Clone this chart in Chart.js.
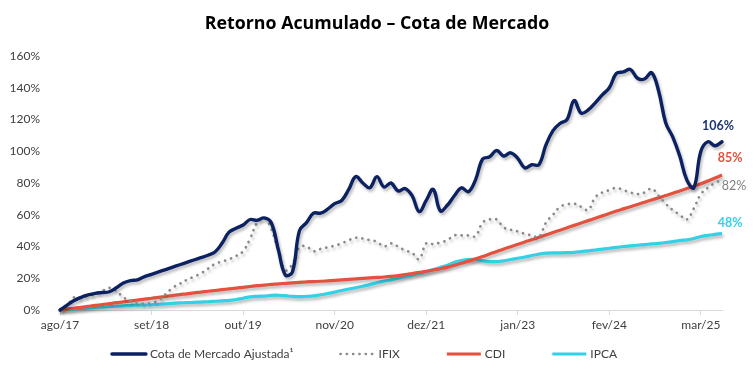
<!DOCTYPE html>
<html><head><meta charset="utf-8">
<script src="https://cdn.jsdelivr.net/npm/chart.js@4.4.1/dist/chart.umd.min.js"></script>
<style>html,body{margin:0;padding:0;background:#fff}#wrap{width:756px;height:378px}</style>
</head><body><div id="wrap"><canvas id="c" width="756" height="378"></canvas></div>
<script>
// ---- data ----
const monthNames = ['jan','fev','mar','abr','mai','jun','jul','ago','set','out','nov','dez'];
const firstMonth = 7, firstYear = 2017, monthCount = 95; // ago/17 .. jun/25
const categories = [];
for (let k = 0; k < monthCount; k++) {
  const m = (firstMonth + k) % 12, y = firstYear + Math.floor((firstMonth + k) / 12);
  categories.push(monthNames[m] + '/' + String(y).slice(2));
}
const tickLabels = ['ago/17','set/18','out/19','nov/20','dez/21','jan/23','fev/24','mar/25'];
const yTicks = [0,20,40,60,80,100,120,140,160];

const cotaMercado = [0,3,6,8,9.5,10.5,11,11.5,14,17,
  18.5,19,21,22.5,24,25.5,27,28.5,30,31.5,
  33,34.5,36.5,42,49,51.5,53.5,57,56.5,58,
  55,38,22,24,50,55,61,61,63.5,67,
  69,76,84,80,77,84,77.5,80,75,76.5,
  72,62,69,76,62.5,66,72,77,74.5,82,
  95,96.5,100.5,97,99,95.5,89.5,91.5,91.5,104,
  113,117.5,120,132,124,126,130.5,135.5,140,149,
  150,151.5,146,145.5,149.5,138,118,109,97,82,
  77,100,106,103.5,106];
const ifix = [0,3,8,7.5,9,10,12,14,12,8,
  5.5,4.5,4,4.5,6,10,14,16.5,19,21,
  23,26,29,30.5,32,34,37,45,55,58,
  51,37,25,29,39.5,40,37,38.5,39.5,40.5,
  42,44,45.5,45,44,43,40,42,40,37.5,
  36,32,42,41.5,42.5,44,47,47,47,46.5,
  55,57,57,52,50.5,49.5,48,47,46,55,
  60,65,66.5,67,65,63,71,74,75.5,77,
  75.5,74,73,74,76.5,72,67,63,60,57,
  64,73,77,80,82];
const cdi = [0,0.6,1.1,1.7,2.3,2.9,3.4,4.0,4.6,5.1,
  5.7,6.3,6.8,7.4,8.0,8.5,9.1,9.7,10.2,10.8,
  11.3,11.8,12.3,12.8,13.3,13.8,14.3,14.8,15.3,15.7,
  16.1,16.5,16.8,17.1,17.4,17.7,17.9,18.1,18.4,18.7,
  19.0,19.3,19.6,19.9,20.2,20.5,20.8,21.2,21.7,22.3,
  23.0,23.7,24.4,25.2,26.0,27.0,28.2,29.5,30.8,32.2,
  33.7,35.3,36.9,38.4,39.9,41.4,42.9,44.3,45.8,47.3,
  48.8,50.3,51.8,53.3,54.8,56.3,57.8,59.3,60.8,62.3,
  63.7,65.1,66.5,67.9,69.3,70.7,72.1,73.5,75.0,76.5,
  78.0,79.6,81.3,83.1,85.0];
const ipca = [0,0.3,0.6,1.0,1.3,1.6,1.9,2.2,2.4,2.6,
  2.8,3.0,3.1,3.3,3.6,3.9,4.2,4.5,4.6,4.8,
  5.0,5.2,5.5,5.8,6.1,6.6,7.4,8.3,8.6,8.8,
  9.2,9.3,9.0,8.6,8.4,8.6,8.9,9.6,10.4,11.3,
  12.3,13.2,14.0,15.0,16.0,17.2,18.2,19.0,20.0,21.2,
  22.0,23.0,24.2,25.5,26.8,28.2,30.0,31.2,31.8,31.8,
  31.0,30.5,30.5,31.0,31.8,32.6,33.4,34.3,35.2,35.8,
  36.0,36.0,36.1,36.3,36.8,37.3,37.8,38.3,38.9,39.5,
  40.0,40.4,40.8,41.2,41.6,42.0,42.5,43.1,43.8,44.2,
  45.0,46.3,47.0,47.6,48.2];
const seriesNames = ['Cota de Mercado Ajustada\u00B9','IFIX','CDI','IPCA'];
const endLabels = ['106%','82%','85%','48%'];
const chartTitle = 'Retorno Acumulado \u2013 Cota de Mercado';

// ---- styles ----
const colors = ['#0B2162','#8A8A8A','#E4513E','#33D0E6'];
const labelColors = ['#1B3472','#808080','#E4513E','#33D0E6'];
const endLabelOffsets = [{dx:-4,dy:-16,bold:true},{dx:12,dy:6,bold:false},{dx:8,dy:-17,bold:true},{dx:8,dy:-11,bold:true}];
const FONT = 'Lato';

const shadowPlugin = {
  id:'shadow',
  beforeDatasetDraw(chart){const ctx=chart.ctx;ctx.save();ctx.shadowColor='rgba(0,0,0,0.28)';ctx.shadowBlur=3;ctx.shadowOffsetX=1.5;ctx.shadowOffsetY=2.5;},
  afterDatasetDraw(chart){chart.ctx.restore();}
};
const endLabelPlugin = {
  id:'endLabels',
  afterDatasetsDraw(chart){
    const ctx=chart.ctx;
    chart.data.datasets.forEach((ds,i)=>{
      const meta=chart.getDatasetMeta(i); const pt=meta.data[meta.data.length-1]; const o=endLabelOffsets[i];
      ctx.save(); ctx.font=(o.bold?'bold ':'')+'12.5px '+FONT; ctx.fillStyle=labelColors[i];
      ctx.textAlign='center'; ctx.textBaseline='middle';
      ctx.fillText(endLabels[i], pt.x+o.dx, pt.y+o.dy); ctx.restore();
    });
  }
};
const titleLegendPlugin = {
  id:'titleLegend',
  afterDraw(chart){
    const ctx=chart.ctx;
    ctx.save();
    ctx.font='bold 17.8px "Open Sans"'; ctx.fillStyle='#000'; ctx.textAlign='center'; ctx.textBaseline='middle';
    ctx.fillText(chartTitle, 377, 24);
    // legend
    ctx.font='12px '+FONT; ctx.textAlign='left';
    const lineLen=35, gap=4, itemGap=46, ly=354;
    const widths=seriesNames.map(t=>lineLen+gap+ctx.measureText(t).width);
    const total=widths.reduce((a,b)=>a+b,0)+itemGap*(widths.length-1);
    let x=364-total/2;
    chart.data.datasets.forEach((ds,i)=>{
      ctx.save();
      ctx.strokeStyle=ds.borderColor; ctx.lineWidth=ds.borderWidth; ctx.lineCap=ds.borderCapStyle||'butt';
      ctx.setLineDash(ds.borderDash||[]);
      ctx.beginPath(); ctx.moveTo(x+1,ly); ctx.lineTo(x+lineLen,ly); ctx.stroke(); ctx.restore();
      ctx.fillStyle='#404040'; ctx.fillText(seriesNames[i], x+lineLen+gap, ly);
      x+=widths[i]+itemGap;
    });
    ctx.restore();
  }
};

const data = {
  labels: categories,
  datasets: [
    {label:seriesNames[0],data:cotaMercado,borderColor:colors[0],borderWidth:3.4,tension:0.4,pointRadius:0,clip:false,borderCapStyle:'round'},
    {label:seriesNames[1],data:ifix,borderColor:colors[1],borderWidth:2.7,tension:0.4,pointRadius:0,clip:false,borderDash:[0.1,6.2],borderCapStyle:'round'},
    {label:seriesNames[2],data:cdi,borderColor:colors[2],borderWidth:3.2,tension:0.4,pointRadius:0,clip:false},
    {label:seriesNames[3],data:ipca,borderColor:colors[3],borderWidth:3.2,tension:0.4,pointRadius:0,clip:false}
  ]
};

new Chart(document.getElementById('c'), {
  type:'line',
  data,
  plugins:[shadowPlugin,endLabelPlugin,titleLegendPlugin],
  options:{
    responsive:false, animation:false, devicePixelRatio:1,
    layout:{padding:{left:0,right:34,top:56,bottom:44}},
    plugins:{legend:{display:false},title:{display:false},tooltip:{enabled:false}},
    scales:{
      x:{
        offset:false,
        grid:{display:true,drawOnChartArea:false,drawTicks:true,tickLength:5,color:'#D9D9D9'},
        border:{display:true,color:'#D9D9D9',width:1},
        ticks:{autoSkip:false,maxRotation:0,minRotation:0,padding:3,color:'#404040',font:{family:FONT,size:12},
          callback(v,i){const l=categories[i];return tickLabels.includes(l)?l:null;}},
        afterFit(s){s.height=24;}
      },
      y:{
        min:0,max:160,
        grid:{display:false},
        border:{display:false},
        afterBuildTicks(s){s.ticks=yTicks.map(v=>({value:v}));},
        ticks:{padding:12,color:'#404040',font:{family:FONT,size:12},callback:v=>v+'%'},
        afterFit(s){s.width=60;}
      }
    }
  }
});
</script></body></html>
